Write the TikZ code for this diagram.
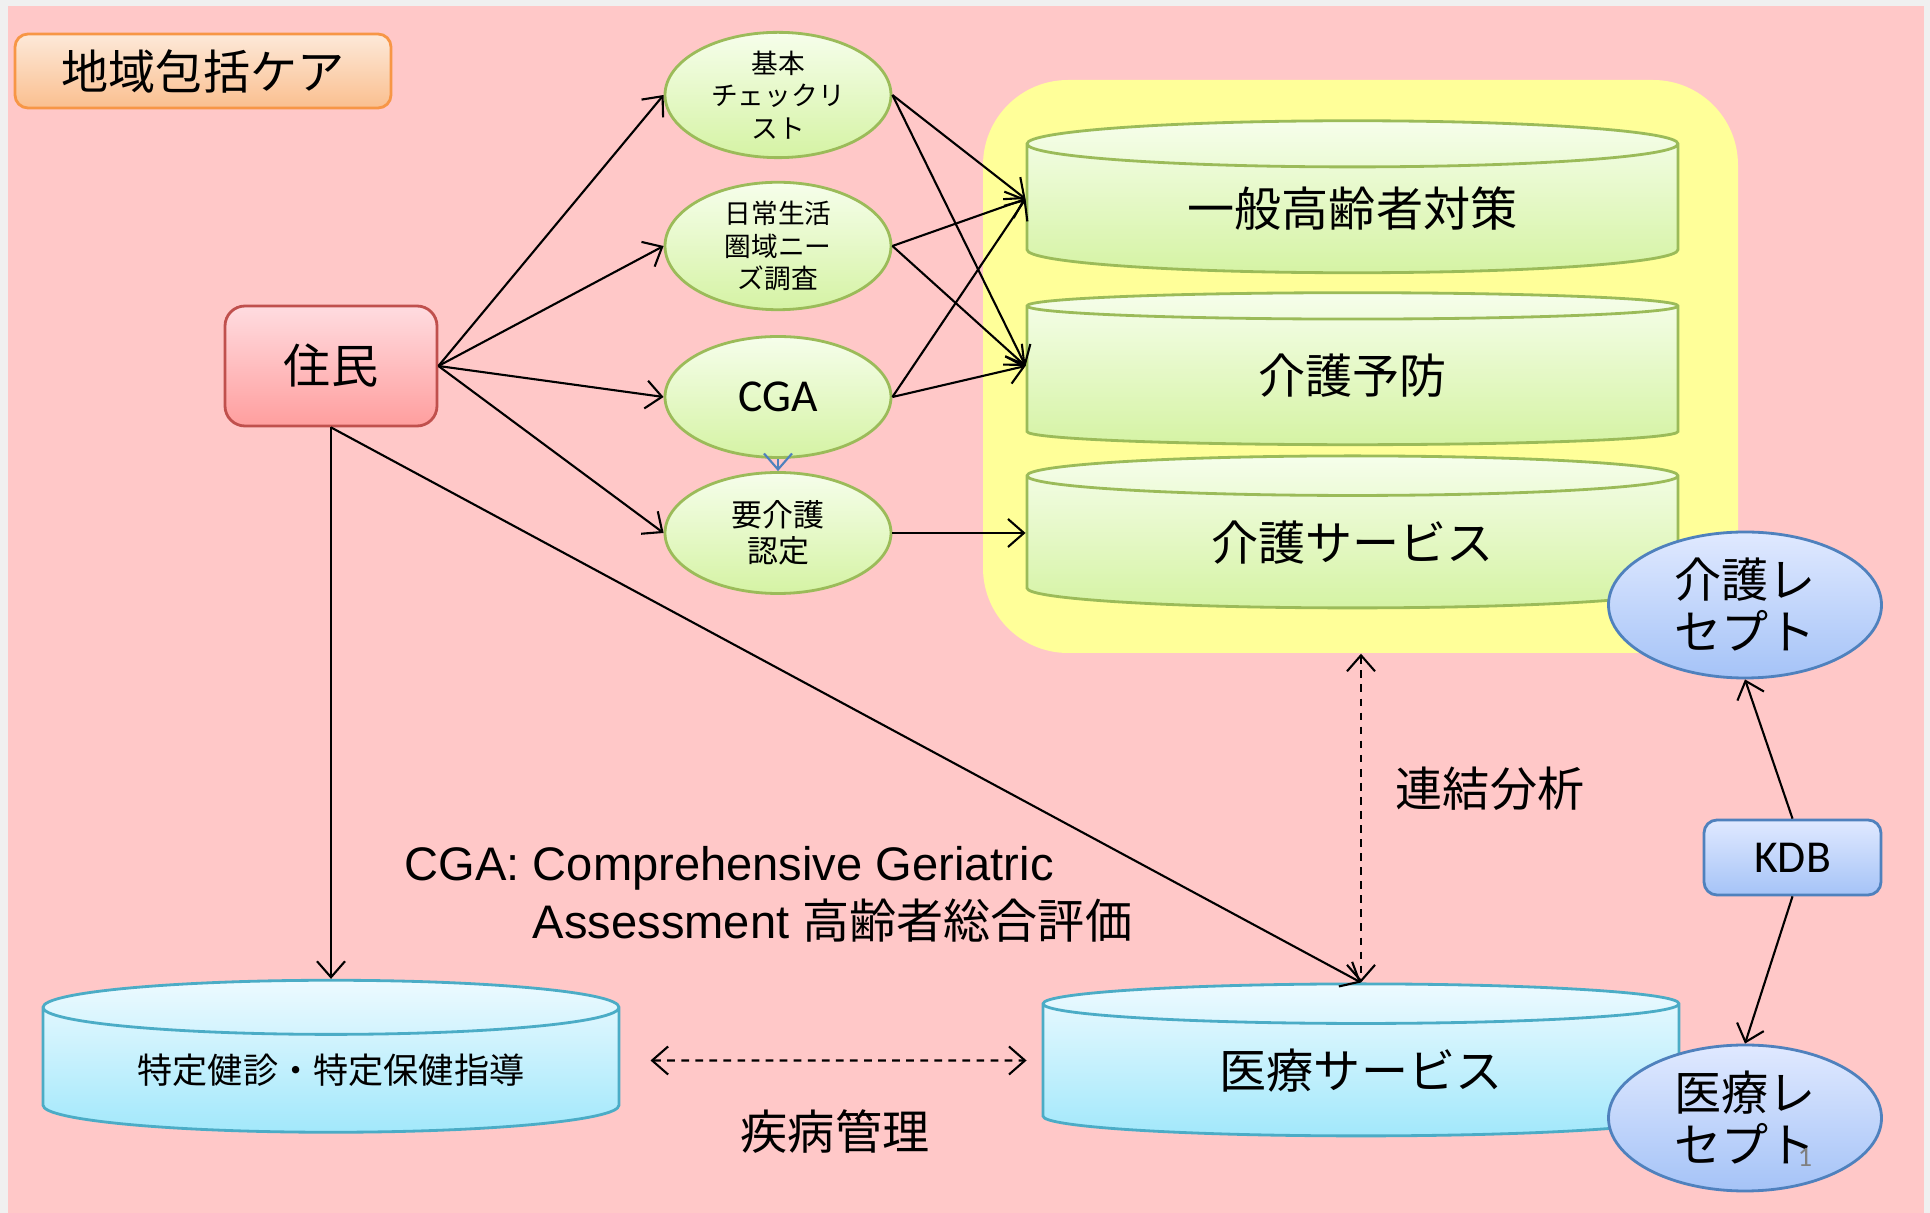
\documentclass[tikz,border=0pt]{standalone}
\usepackage{fontspec}
\setmainfont{Noto Sans CJK JP}
\newfontfamily\jpfont{Noto Sans CJK JP}
\newfontfamily\calfont{Carlito}
\newfontfamily\arialfont{Liberation Sans}
\usetikzlibrary{shapes.geometric,arrows.meta}

\definecolor{slidegray}{HTML}{F0F0F0}
\definecolor{slidepink}{HTML}{FFC8C8}
\definecolor{zoneyellow}{HTML}{FFFF99}
\definecolor{leafline}{HTML}{9BBB59}
\definecolor{leaftop}{HTML}{F6FEEB}
\definecolor{leafbot}{HTML}{D5F3A4}
\definecolor{skyline}{HTML}{4F81BD}
\definecolor{skytop}{HTML}{E0E9FF}
\definecolor{skybot}{HTML}{A5C3F7}
\definecolor{aqualine}{HTML}{4BACC6}
\definecolor{aquatop}{HTML}{EDFAFF}
\definecolor{aquabot}{HTML}{A2E8FB}
\definecolor{peachline}{HTML}{F79646}
\definecolor{peachtop}{HTML}{FDE9D9}
\definecolor{peachbot}{HTML}{FABF8F}
\definecolor{roseline}{HTML}{C0504D}
\definecolor{rosetop}{HTML}{FFDCE0}
\definecolor{rosebot}{HTML}{FF9E9E}

\begin{document}
\begin{tikzpicture}[
    every node/.append style={inner sep=0pt},
    big/.style={font=\fontsize{13.4}{16}\selectfont},
    conn/.style={line width=0.6pt, -{Straight Barb[length=1.6mm,width=2.8mm]}},
    twoway/.style={line width=0.6pt, dash pattern=on 2.2pt off 1.8pt,
      {Straight Barb[length=1.6mm,width=2.8mm]}-{Straight Barb[length=1.6mm,width=2.8mm]}},
    check/.style={ellipse, draw=leafline, line width=0.8pt, top color=leaftop,
      bottom color=leafbot, minimum width=2.26cm, minimum height=1.21cm, align=center},
    receipt/.style={ellipse, draw=skyline, line width=0.8pt, top color=skytop,
      bottom color=skybot, minimum width=2.73cm, minimum height=1.46cm, align=center,
      font=\fontsize{13.4}{14.8}\selectfont},
    drum/.style={cylinder, shape border rotate=90, aspect=0.14, line width=0.8pt,
      minimum width=#1, minimum height=1.52cm, big},
    caredrum/.style={drum=#1, draw=leafline, top color=leaftop, bottom color=leafbot},
    meddrum/.style={drum=#1, draw=aqualine, top color=aquatop, bottom color=aquabot}
  ]
  \useasboundingbox (0,0) rectangle (19.30,-12.13);
  \fill[slidegray] (0,0) rectangle (19.30,-12.13);
  \fill[slidepink] (0.08,-0.06) rectangle (19.24,-12.13);

  \node[fill=zoneyellow, rounded corners=0.85cm, minimum width=7.55cm,
    minimum height=5.73cm] (zone) at (13.605,-3.665) {};

  \node[big, draw=peachline, line width=0.8pt, top color=peachtop, bottom color=peachbot,
    rounded corners=0.13cm, minimum width=3.76cm, minimum height=0.74cm] (title)
    at (2.03,-0.71) {地域包括ケア};
  \node[big, draw=roseline, line width=0.8pt, top color=rosetop, bottom color=rosebot,
    rounded corners=0.2cm, minimum width=2.12cm, minimum height=1.20cm] (jumin)
    at (3.31,-3.66) {住民};

  \node[check, font=\fontsize{7.6}{9.3}\selectfont] (kihon) at (7.78,-0.95)
    {基本\\チェックリ\\スト};
  \node[check, font=\fontsize{7.6}{9.3}\selectfont] (nichijo) at (7.78,-2.46)
    {日常生活\\圏域ニー\\ズ調査};
  \node[check, font=\calfont\fontsize{13}{15}\selectfont] (cga) at (7.78,-3.97) {CGA};
  \node[check, font=\fontsize{8.8}{10.2}\selectfont] (yokaigo) at (7.78,-5.33)
    {要介護\\認定};

  \node[caredrum=6.51cm] (ippan) at (13.525,-2.09) {一般高齢者対策};
  \node[caredrum=6.51cm] (yobo) at (13.525,-3.76) {介護予防};
  \node[caredrum=6.51cm] (kaigo) at (13.525,-5.425) {介護サービス};

  \node[meddrum=5.76cm, font=\fontsize{10}{12}\selectfont] (tokutei) at (3.31,-10.705)
    {特定健診・特定保健指導};
  \node[meddrum=6.36cm] (iryo) at (13.61,-10.705) {医療サービス};

  \node[receipt] (kaigorece) at (17.45,-6.05) {介護レ\\セプト};
  \node[draw=skyline, line width=0.8pt, top color=skytop, bottom color=skybot,
    rounded corners=0.13cm, minimum width=1.77cm, minimum height=0.75cm,
    font=\calfont\fontsize{13}{15}\selectfont] (kdb) at (17.925,-8.575) {KDB};
  \node[receipt] (iryorece) at (17.45,-11.18) {医療レ\\セプト};

  \node[big] (renketsu) at (14.90,-7.89) {連結分析};
  \node[big] (shippei) at (8.35,-11.32) {疾病管理};
  \node[anchor=west, align=left, font=\arialfont\fontsize{13.4}{16.5}\selectfont] (cganote)
    at (4.04,-8.94) {CGA: Comprehensive Geriatric\\\phantom{CGA: }Assessment {\jpfont 高齢者総合評価}};
  \node[text=gray, font=\calfont\fontsize{8}{8}\selectfont] (pagenum) at (18.05,-11.57) {1};

  \draw[conn] (jumin.east) -- (kihon.west);
  \draw[conn] (jumin.east) -- (nichijo.west);
  \draw[conn] (jumin.east) -- (cga.west);
  \draw[conn] (jumin.east) -- (yokaigo.west);
  \draw[conn] (jumin.south) -- (tokutei.top);
  \draw[conn] (jumin.south) -- (iryo.top);
  \draw[conn] (kihon.east) -- ([yshift=1mm]ippan.west);
  \draw[conn] (kihon.east) -- ([yshift=1mm]yobo.west);
  \draw[conn] (nichijo.east) -- ([yshift=1mm]ippan.west);
  \draw[conn] (nichijo.east) -- ([yshift=1mm]yobo.west);
  \draw[conn] (cga.east) -- ([yshift=1mm]ippan.west);
  \draw[conn] (cga.east) -- ([yshift=1mm]yobo.west);
  \draw[conn] (yokaigo.east) -- (kaigo.west |- yokaigo.east);
  \draw[conn, skyline] (cga.south) -- (yokaigo.north);
  \draw[twoway] (iryo.top |- zone.south) -- (iryo.top);
  \draw[twoway, shorten <=0.3cm, shorten >=0.15cm] ([yshift=1mm]tokutei.east)
    -- ([yshift=1mm]iryo.west);
  \draw[conn] (kdb.north) -- (kaigorece.south);
  \draw[conn] (kdb.south) -- (iryorece.north);
\end{tikzpicture}
\end{document}
